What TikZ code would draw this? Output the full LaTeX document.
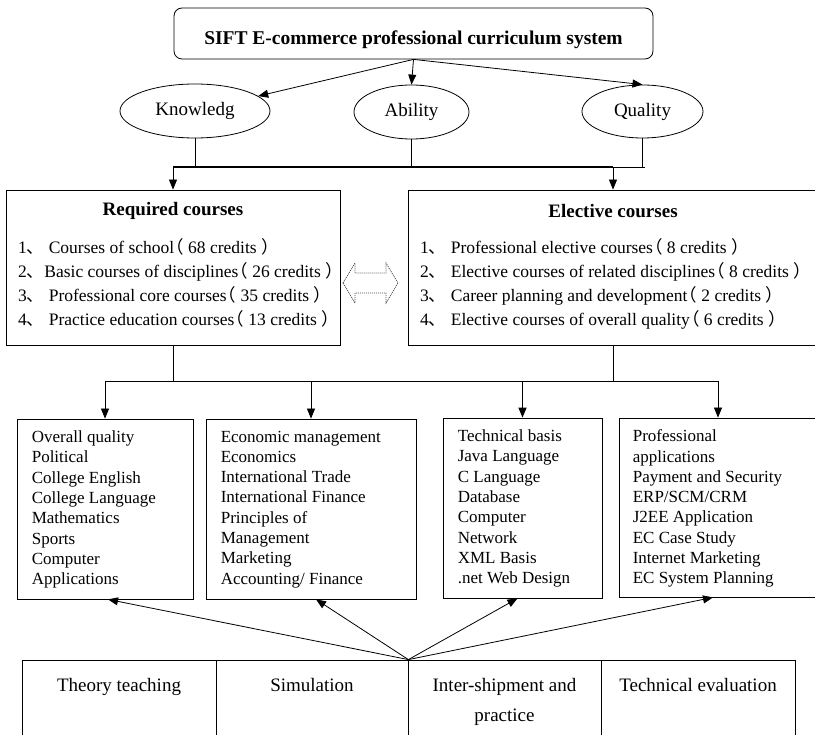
\documentclass[tikz,border=0pt]{standalone}
\usepackage{fontspec}
\setmainfont{Liberation Serif}
\newfontfamily\cjk{Noto Sans CJK SC}
\usetikzlibrary{arrows.meta,shapes.geometric}

% chinese punctuation used in the course lists
\newcommand\cnsep{{\cjk 、}}
\newcommand\cnopen{{\cjk\kern-0.45em （}}
\newcommand\cnclose{{\cjk ）}}

\tikzset{
  frame/.style={draw, line width=0.8pt, inner sep=0pt},
  oval/.style={draw, ellipse, line width=0.8pt, inner sep=0pt, font=\fontsize{19}{22}\selectfont},
  arr/.style={-{Triangle[length=10pt,width=8pt]}, line width=0.8pt},
  head/.style={font=\bfseries\fontsize{19}{22}\selectfont},
  items/.style={anchor=north west, inner sep=0pt, align=left, font=\fontsize{17.5}{24}\selectfont},
  subjects/.style={anchor=north west, inner sep=0pt, align=left, font=\fontsize{17}{20.3}\selectfont},
  cell/.style={frame, minimum height=100pt},
  celltext/.style={anchor=north, inner sep=0pt, align=center, font=\fontsize{19}{30}\selectfont}
}

\begin{document}
\begin{tikzpicture}[x=1pt,y=-1pt]
  \useasboundingbox (0,0) rectangle (815,735);

  %%%%% system and the three aims %%%%%
  \node[frame, rounded corners=8pt, minimum width=479pt, minimum height=51pt] (sys) at (413.5,33.5) {};
  \node[font=\bfseries\fontsize{19.5}{22}\selectfont] (systext) at ([yshift=-6pt]sys.center) {SIFT E-commerce professional curriculum system};

  \node[oval, minimum width=150pt, minimum height=54pt] (know) at (195,111) {Knowledg};
  \node[oval, minimum width=115pt, minimum height=54pt] (abil) at (411.5,112) {Ability};
  \node[oval, minimum width=121pt, minimum height=53pt] (qual) at (642.5,111.5) {Quality};

  \draw[arr] (sys.south) -- (know);
  \draw[arr] (sys.south) -- (abil.north);
  \draw[arr] (sys.south) -- (qual.north);

  %%%%% required / elective %%%%%
  \node[frame, minimum width=334pt, minimum height=155pt] (req) at (173,267.5) {};
  \node[frame, minimum width=410pt, minimum height=155pt] (elec) at (613,267.5) {};

  \node[head] (reqhead) at ([yshift=-21pt]req.north) {Required courses};
  \node[items] (reqlist) at (18,238) {%
    1\cnsep\ Courses of school\cnopen\ 68 credits \cnclose\\
    2\cnsep Basic courses of disciplines\cnopen\ 26 credits \cnclose\\
    3\cnsep\ Professional core courses\cnopen\ 35 credits \cnclose\\
    4\cnsep\ Practice education courses\cnopen\ 13 credits \cnclose};

  \node[head] (elechead) at ([yshift=-21pt]elec.north) {Elective courses};
  \node[items] (eleclist) at (420,238) {%
    1\cnsep\ Professional elective courses\cnopen\ 8 credits \cnclose\\
    2\cnsep\ Elective courses of related disciplines\cnopen\ 8 credits \cnclose\\
    3\cnsep\ Career planning and development\cnopen\ 2 credits \cnclose\\
    4\cnsep\ Elective courses of overall quality\cnopen\ 6 credits \cnclose};

  % dotted two-way arrow between the boxes
  \draw[gray!60!black, line width=0.8pt, dash pattern=on 1pt off 1pt] (343,283) -- (355,263) -- (355,273) -- (386,273) -- (386,263)
       -- (398,283) -- (386,303) -- (386,293) -- (355,293) -- (355,303) -- cycle;

  %%%%% bus from the aims down %%%%%
  \coordinate (busL) at (173,167);
  \coordinate (busR) at (645,167);
  \draw[line width=0.8pt] (know.south) -- (know.south |- busL);
  \draw[line width=0.8pt] (abil.south) -- (abil.south |- busL);
  \draw[line width=0.8pt] (qual.south) -- (qual.south |- busR);
  \draw[line width=0.8pt] (busL) -- (busR);
  \draw[line width=1.4pt] (busL) -- (elec.north |- busL);
  \draw[arr] (busL) -- (req.north);
  \draw[arr] (elec.north |- busL) -- (elec.north);

  %%%%% subject groups %%%%%
  \node[frame, minimum width=176pt, minimum height=180pt] (q1) at (105,509) {};
  \node[frame, minimum width=210pt, minimum height=180pt] (q2) at (311,509) {};
  \node[frame, minimum width=159pt, minimum height=180pt] (q3) at (522.5,508) {};
  \node[frame, minimum width=198pt, minimum height=179pt] (q4) at (718,507.5) {};

  \node[subjects] (q1text) at ([xshift=15pt,yshift=-12pt]q1.north west) {Overall quality\\Political\\College English\\College Language\\Mathematics\\Sports\\Computer\\Applications};
  \node[subjects] (q2text) at ([xshift=15pt,yshift=-12pt]q2.north west) {Economic management\\Economics\\International Trade\\International Finance\\Principles of\\Management\\Marketing\\Accounting/ Finance};
  \node[subjects] (q3text) at ([xshift=15pt,yshift=-12pt]q3.north west) {Technical basis\\Java Language\\C Language\\Database\\Computer\\Network\\XML Basis\\.net Web Design};
  \node[subjects] (q4text) at ([xshift=14pt,yshift=-12pt]q4.north west) {Professional\\applications\\Payment and Security\\ERP/SCM/CRM\\J2EE Application\\EC Case Study\\Internet Marketing\\EC System Planning};

  \coordinate (lowL) at (105,381);
  \coordinate (lowR) at (718,381);
  \draw[line width=0.8pt] (req.south) -- (req.south |- lowL);
  \draw[line width=0.8pt] (elec.south) -- (elec.south |- lowL);
  \draw[line width=0.8pt] (lowL) -- (lowR);
  \draw[arr] (lowL) -- (q1.north);
  \draw[arr] (q2.north |- lowL) -- (q2.north);
  \draw[arr, line width=1.4pt] (q3.north |- lowL) -- (q3.north);
  \draw[arr] (lowR) -- (q4.north);

  %%%%% teaching methods %%%%%
  \node[cell, minimum width=194pt] (c1) at (119,710) {};
  \node[cell, minimum width=192pt] (c2) at (312,710) {};
  \node[cell, minimum width=193pt] (c3) at (504.5,710) {};
  \node[cell, minimum width=194pt] (c4) at (698,710) {};

  \node[celltext] (c1text) at ([yshift=-19pt]c1.north) {Theory teaching};
  \node[celltext] (c2text) at ([yshift=-19pt]c2.north) {Simulation};
  \node[celltext] (c3text) at ([yshift=-19pt]c3.north) {Inter-shipment and\\practice};
  \node[celltext] (c4text) at ([yshift=-19pt]c4.north) {Technical evaluation};

  \coordinate (hub) at (c2.north east);
  \draw[arr] (hub) -- ([xshift=3pt]q1.south);
  \draw[arr] (hub) -- ([xshift=5pt]q2.south);
  \draw[arr] (hub) -- ([xshift=-5pt]q3.south);
  \draw[arr] (hub) -- ([xshift=-5pt]q4.south);
\end{tikzpicture}
\end{document}
